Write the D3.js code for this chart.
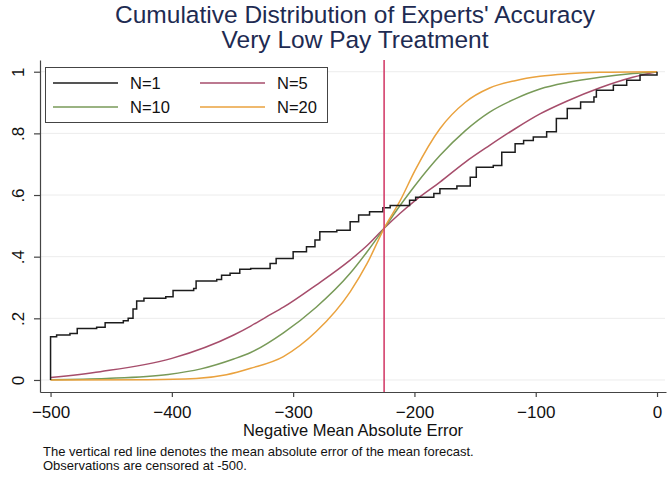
<!DOCTYPE html>
<html>
<head>
<meta charset="utf-8">
<script src="https://cdn.jsdelivr.net/npm/d3@7"></script>
<style>
  html, body { margin: 0; padding: 0; background: #fff; }
  svg { display: block; font-family: "Liberation Sans", Arial, sans-serif; }
</style>
</head>
<body>
<svg id="chart" width="668" height="478"></svg>
<script>
// ---------- data ----------
const xTicks = [-500, -400, -300, -200, -100, 0];
const yTicks = [0, 0.2, 0.4, 0.6, 0.8, 1];
const yTickLabels = ["0", ".2", ".4", ".6", ".8", "1"];
const meanForecastError = -225;

const seriesNames = ["N=1", "N=5", "N=10", "N=20"];

// N=1: empirical CDF (step function), [error, cumulative share]
const n1 = [
  [-500, 0], [-500, 0.14], [-495, 0.146], [-484, 0.151], [-478, 0.167], [-462, 0.171],
  [-455, 0.186], [-440, 0.192], [-436, 0.2], [-432, 0.23], [-429, 0.256], [-423, 0.265],
  [-405, 0.27], [-399, 0.29], [-382, 0.297], [-380, 0.321], [-363, 0.326], [-359, 0.34],
  [-352, 0.346], [-344, 0.359], [-335, 0.362], [-319, 0.378], [-314, 0.394], [-300, 0.416],
  [-289, 0.432], [-282, 0.454], [-278, 0.481], [-264, 0.486], [-253, 0.513], [-246, 0.535],
  [-237, 0.546], [-226, 0.559], [-220, 0.566], [-204, 0.583], [-199, 0.593], [-184, 0.605],
  [-179, 0.62], [-165, 0.629], [-154, 0.658], [-149, 0.69], [-135, 0.696], [-128, 0.739],
  [-117, 0.766], [-110, 0.777], [-102, 0.788], [-91, 0.805], [-83, 0.848], [-74, 0.881],
  [-63, 0.902], [-52, 0.918], [-50, 0.94], [-36, 0.956], [-25, 0.972], [-14, 0.989], [0, 1]
];

const n5 = [
  [-500, 0.008], [-459, 0.027], [-400, 0.07], [-349, 0.146], [-335, 0.175], [-322, 0.205],
  [-308, 0.236], [-281, 0.308], [-253, 0.389], [-239, 0.436], [-225, 0.492], [-212, 0.54],
  [-199.5, 0.582], [-179, 0.642], [-158, 0.707], [-138, 0.761], [-117, 0.815], [-96.5, 0.863],
  [-74, 0.905], [-47, 0.948], [-20, 0.982], [0, 1]
];

const n10 = [
  [-500, 0.001], [-454, 0.005], [-403, 0.018], [-376, 0.036], [-349, 0.068], [-335, 0.089],
  [-308, 0.153], [-281, 0.236], [-253, 0.346], [-239, 0.416], [-225, 0.492], [-212, 0.565],
  [-199.5, 0.631], [-179, 0.728], [-158, 0.809], [-138, 0.869], [-117, 0.912], [-96.5, 0.944],
  [-74, 0.965], [-47, 0.982], [-20, 0.994], [0, 1]
];

const n20 = [
  [-500, 0], [-420, 0.001], [-380, 0.005], [-355, 0.017], [-335, 0.038], [-308, 0.076],
  [-281, 0.157], [-253, 0.286], [-239, 0.378], [-225, 0.492], [-212, 0.58], [-199.5, 0.68],
  [-179, 0.815], [-158, 0.901], [-138, 0.947], [-117, 0.971], [-96.5, 0.985], [-74, 0.993],
  [-47, 0.998], [0, 1]
];

const titleLines = ["Cumulative Distribution of Experts' Accuracy", "Very Low Pay Treatment"];
const xTitle = "Negative Mean Absolute Error";
const noteLines = [
  "The vertical red line denotes the mean absolute error of the mean forecast.",
  "Observations are censored at -500."
];

// ---------- drawing ----------
const svg = d3.select("#chart");
const colors = { "N=1": "#1c1c1c", "N=5": "#a64d6b", "N=10": "#789a58", "N=20": "#eaa23e" };

const x = d3.scaleLinear().domain([-508.7, 7.4]).range([40, 666]);
const y = d3.scaleLinear().domain([-0.039, 1.038]).range([392, 60]);

// gridlines
svg.append("g").selectAll("line").data(yTicks).join("line")
  .attr("x1", 41).attr("x2", 665)
  .attr("y1", d => y(d)).attr("y2", d => y(d))
  .attr("stroke", "#ececec").attr("stroke-width", 1);

// axes
const gx = svg.append("g").attr("transform", "translate(0,392)")
  .call(d3.axisBottom(x).tickValues(xTicks).tickSize(5).tickSizeOuter(0).tickFormat(d3.format("d")));
gx.select(".domain").attr("stroke", "#444").attr("stroke-width", 1.2);
gx.selectAll(".tick line").attr("stroke", "#444").attr("stroke-width", 1.2);
gx.selectAll(".tick text").attr("y", 26).attr("dy", 0)
  .attr("font-size", 17).attr("fill", "#111").attr("font-family", "Liberation Sans, Arial, sans-serif");

const gy = svg.append("g").attr("transform", "translate(40,0)")
  .call(d3.axisLeft(y).tickValues(yTicks).tickSize(6).tickSizeOuter(0)
    .tickFormat((d, i) => yTickLabels[i]));
gy.select(".domain").attr("stroke", "#444").attr("stroke-width", 1.2);
gy.selectAll(".tick line").attr("stroke", "#444").attr("stroke-width", 1.2);
gy.selectAll(".tick text").attr("x", 0).attr("y", 0).attr("dy", 0)
  .attr("transform", "translate(-16,0) rotate(-90)")
  .attr("text-anchor", "middle")
  .attr("font-size", 17).attr("fill", "#111").attr("font-family", "Liberation Sans, Arial, sans-serif");

// lines
const smooth = d3.line().x(d => x(d[0])).y(d => y(d[1])).curve(d3.curveMonotoneX);
const step = d3.line().x(d => x(d[0])).y(d => y(d[1])).curve(d3.curveStepAfter);

const plot = svg.append("g");
plot.append("path").datum(n5).attr("d", smooth).attr("fill", "none")
  .attr("stroke", colors["N=5"]).attr("stroke-width", 1.5);
plot.append("path").datum(n10).attr("d", smooth).attr("fill", "none")
  .attr("stroke", colors["N=10"]).attr("stroke-width", 1.5);
plot.append("path").datum(n20).attr("d", smooth).attr("fill", "none")
  .attr("stroke", colors["N=20"]).attr("stroke-width", 1.5);
plot.append("path").datum(n1).attr("d", step).attr("fill", "none")
  .attr("stroke", colors["N=1"]).attr("stroke-width", 1.5);

// vertical red line
svg.append("line")
  .attr("x1", x(meanForecastError)).attr("x2", x(meanForecastError))
  .attr("y1", 60).attr("y2", 392)
  .attr("stroke", "#d4406c").attr("stroke-width", 1.6);

// legend
const lg = svg.append("g");
lg.append("rect").attr("x", 45.5).attr("y", 67.5).attr("width", 282).attr("height", 55)
  .attr("fill", "#fff").attr("stroke", "#444").attr("stroke-width", 1);
const legendPos = [
  { name: "N=1", lx: 53, ly: 83 },
  { name: "N=5", lx: 200, ly: 83 },
  { name: "N=10", lx: 53, ly: 107 },
  { name: "N=20", lx: 200, ly: 107 }
];
legendPos.forEach(p => {
  lg.append("line").attr("x1", p.lx).attr("x2", p.lx + 65).attr("y1", p.ly).attr("y2", p.ly)
    .attr("stroke", colors[p.name]).attr("stroke-width", 1.5);
  lg.append("text").attr("x", p.lx + 77).attr("y", p.ly + 6)
    .attr("font-size", 16.5).attr("fill", "#111").text(p.name);
});

// titles
svg.append("g").selectAll("text").data(titleLines).join("text")
  .attr("x", 355).attr("y", (d, i) => 23 + i * 25)
  .attr("text-anchor", "middle").attr("font-size", 24.5).attr("fill", "#1e2b52")
  .text(d => d);

svg.append("text").attr("x", 353).attr("y", 436).attr("text-anchor", "middle")
  .attr("font-size", 16.5).attr("fill", "#111").text(xTitle);

svg.append("g").selectAll("text").data(noteLines).join("text")
  .attr("x", 43).attr("y", (d, i) => 456 + i * 14)
  .attr("font-size", 13).attr("fill", "#111").text(d => d);
</script>
</body>
</html>
